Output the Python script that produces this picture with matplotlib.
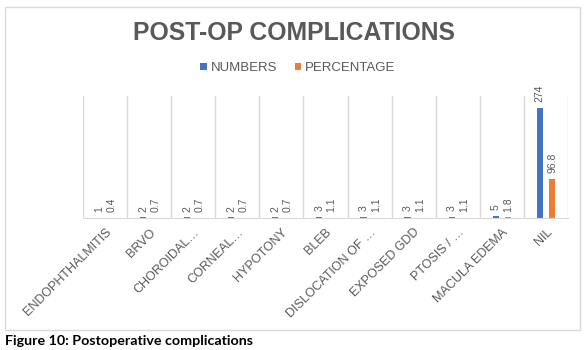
import matplotlib.pyplot as plt
import numpy as np
from matplotlib.patches import Rectangle

plt.rcParams["font.family"] = ["Liberation Sans", "DejaVu Sans"]

# data
categories = ["ENDOPHTHALMITIS", "BRVO", "CHOROIDAL\u2026", "CORNEAL\u2026", "HYPOTONY",
              "BLEB", "DISLOCATION OF \u2026", "EXPOSED GDD", "PTOSIS / \u2026",
              "MACULA EDEMA", "NIL"]
numbers = [1, 2, 2, 2, 2, 3, 3, 3, 3, 5, 274]
percentage = [0.4, 0.7, 0.7, 0.7, 0.7, 1.1, 1.1, 1.1, 1.1, 1.8, 96.8]

blue = "#4472C4"
orange = "#ED7D31"
grey_txt = "#595959"
grid_col = "#D9D9D9"

W, H = 587, 350
fig = plt.figure(figsize=(W / 100, H / 100), dpi=100)

# plot area in pixels: x 83..568, y 96..218
ax = fig.add_axes([83 / W, 1 - 218 / H, (568 - 83) / W, (218 - 96) / H])

x = np.arange(len(categories))
bw = 0.14
off = 0.14
b1 = ax.bar(x - off, numbers, bw, color=blue, label="NUMBERS")
b2 = ax.bar(x + off, percentage, bw, color=orange, label="PERCENTAGE")

for bars, vals in ((b1, numbers), (b2, percentage)):
    for r, v in zip(bars, vals):
        ax.annotate(str(v), (r.get_x() + r.get_width() / 2, r.get_height()),
                    xytext=(0, 4), textcoords="offset points", rotation=90,
                    ha="center", va="bottom", fontsize=7.5, color=grey_txt)

ax.set_xlim(-0.5, len(categories) - 0.5)
ax.set_ylim(0, 303)
ax.set_yticks([])

# vertical grid lines between categories
ax.set_xticks(np.arange(-0.5, len(categories)), minor=True)
ax.grid(which="minor", axis="x", color=grid_col, lw=1)
ax.tick_params(which="both", length=0, pad=6)

ax.set_xticks(x)
ax.set_xticklabels(categories, rotation=45, ha="right", va="top",
                   rotation_mode="anchor", fontsize=9, color=grey_txt)
for s in ["top", "left", "right"]:
    ax.spines[s].set_visible(False)
ax.spines["bottom"].set_color(grid_col)

fig.text(294 / W, 1 - 33 / H, "POST-OP COMPLICATIONS", ha="center", va="center",
         fontsize=17.8, fontweight="bold", color=grey_txt)

fig.legend(loc="center", bbox_to_anchor=(298 / W, 1 - 68 / H), ncol=2, frameon=False,
           fontsize=9.5, handlelength=0.5, handleheight=0.5, handletextpad=0.3,
           columnspacing=1.3, labelcolor=grey_txt)

# chart border
fig.patches.append(Rectangle((5 / W, 1 - 330 / H), 575 / W, 323 / H,
                             transform=fig.transFigure, fill=False,
                             edgecolor=grid_col, lw=1))

fig.text(5 / W, 1 - 341 / H, "Figure 10: Postoperative complications",
         ha="left", va="center", fontsize=10.3, fontweight="bold",
         family="Lato", color="black")

fig.savefig("out.png", dpi=100)
